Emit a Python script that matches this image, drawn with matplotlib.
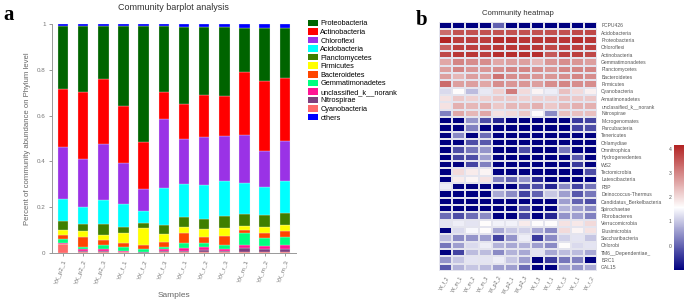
import numpy as np
import matplotlib
matplotlib.use("Agg")
import matplotlib.pyplot as plt
from matplotlib.patches import Patch
from matplotlib.colors import LinearSegmentedColormap

plt.rcParams['font.family'] = ['Liberation Sans', 'DejaVu Sans']

# ---- panel a: stacked bars ----
samples = ['YX_p2_1', 'YX_p2_2', 'YX_p2_3', 'YX_f_1', 'YX_f_2', 'YX_f_3',
           'YX_r_1', 'YX_r_2', 'YX_r_3', 'YX_m_1', 'YX_m_2', 'YX_m_3']

proteobacteria   = [0.275, 0.287, 0.232, 0.347, 0.504, 0.286, 0.333, 0.294, 0.299, 0.193, 0.231, 0.218]
actinobacteria   = [0.252, 0.294, 0.281, 0.251, 0.208, 0.118, 0.154, 0.184, 0.176, 0.275, 0.307, 0.276]
chloroflexi      = [0.229, 0.207, 0.246, 0.178, 0.093, 0.304, 0.198, 0.211, 0.197, 0.210, 0.157, 0.175]
acidobacteria    = [0.093, 0.074, 0.106, 0.102, 0.055, 0.160, 0.143, 0.146, 0.151, 0.135, 0.122, 0.138]
planctomycetes   = [0.041, 0.033, 0.048, 0.026, 0.020, 0.040, 0.044, 0.044, 0.054, 0.052, 0.052, 0.054]
firmicutes       = [0.021, 0.026, 0.020, 0.041, 0.075, 0.033, 0.027, 0.037, 0.032, 0.017, 0.026, 0.025]
bacteroidetes    = [0.019, 0.044, 0.022, 0.017, 0.016, 0.021, 0.044, 0.024, 0.041, 0.011, 0.023, 0.025]
gemmatimonadetes = [0.015, 0.009, 0.016, 0.018, 0.015, 0.012, 0.022, 0.020, 0.018, 0.053, 0.032, 0.035]
unclassified     = [0.005, 0.006, 0.011, 0.006, 0.002, 0.008, 0.010, 0.013, 0.007, 0.016, 0.016, 0.020]
nitrospirae      = [0.003, 0.006, 0.004, 0.002, 0.001, 0.004, 0.006, 0.006, 0.007, 0.017, 0.013, 0.013]
cyanobacteria    = [0.037, 0.004, 0.004, 0.002, 0.001, 0.004, 0.004, 0.006, 0.003, 0.003, 0.003, 0.003]
others           = [0.010, 0.010, 0.010, 0.010, 0.010, 0.010, 0.015, 0.015, 0.015, 0.018, 0.018, 0.018]

phyla = ['Proteobacteria', 'Actinobacteria', 'Chloroflexi', 'Acidobacteria',
         'Planctomycetes', 'Firmicutes', 'Bacteroidetes', 'Gemmatimonadetes',
         'unclassified_k__norank', 'Nitrospirae', 'Cyanobacteria', 'others']
series = [proteobacteria, actinobacteria, chloroflexi, acidobacteria, planctomycetes,
          firmicutes, bacteroidetes, gemmatimonadetes, unclassified, nitrospirae,
          cyanobacteria, others]
colors = ['#006400', '#FF0000', '#9A32E6', '#00FFFF', '#3F7F00', '#FFFF00',
          '#FF4500', '#00FF7F', '#FF1493', '#7F3F7F', '#FF6A6A', '#0000FF']

# ---- panel b: heatmap ----
heat_rows = ['FCPU426', 'Acidobacteria', 'Proteobacteria', 'Chloroflexi', 'Actinobacteria',
             'Gemmatimonadetes', 'Planctomycetes', 'Bacteroidetes', 'Firmicutes',
             'Cyanobacteria', 'Armatimonadetes', 'unclassified_k__norank', 'Nitrospirae',
             'Microgenomates', 'Parcubacteria', 'Tenericutes', 'Chlamydiae', 'Omnitrophica',
             'Hydrogenedentes', 'WS2', 'Tectomicrobia', 'Latescibacteria', 'FBP',
             'Deinococcus-Thermus', 'Candidatus_Berkelbacteria', 'Spirochaetae',
             'Fibrobacteres', 'Verrucomicrobia', 'Elusimicrobia', 'Saccharibacteria',
             'Chlorobi', 'TM6__Dependentiae_', 'BRC1', 'GAL15']
heat_cols = ['YX_f_2', 'YX_m_1', 'YX_m_2', 'YX_m_3', 'YX_p2_2', 'YX_p2_1',
             'YX_p2_3', 'YX_f_3', 'YX_f_1', 'YX_r_3', 'YX_r_1', 'YX_r_2']
heat_vals = [
    [-1, -1, -1, -1, 0.0, -1, -1, -1, -1, -1, -1, -1],
    [3.3, 3.6, 3.6, 3.6, 3.6, 3.6, 3.6, 3.6, 3.6, 3.6, 3.7, 3.7],
    [4.1, 3.8, 3.8, 3.8, 4.0, 4.0, 3.9, 3.9, 3.9, 3.9, 4.0, 3.9],
    [3.4, 3.8, 3.8, 3.8, 3.9, 3.9, 3.9, 3.9, 3.7, 3.8, 3.8, 3.8],
    [3.7, 3.9, 3.9, 3.8, 4.0, 4.0, 4.0, 4.0, 3.5, 3.8, 3.8, 3.7],
    [2.6, 3.0, 2.9, 2.9, 2.6, 2.7, 2.7, 2.4, 2.8, 2.9, 2.8, 2.7],
    [2.7, 3.0, 2.8, 2.8, 2.9, 3.0, 3.0, 2.9, 2.8, 3.0, 3.0, 3.0],
    [2.7, 2.4, 2.7, 2.7, 3.2, 2.9, 2.9, 2.8, 2.8, 2.9, 3.0, 2.9],
    [3.3, 2.7, 2.7, 2.6, 2.9, 2.8, 2.8, 2.7, 2.9, 3.0, 2.9, 2.9],
    [1.2, 1.6, 0.9, 1.35, 2.1, 3.1, 2.0, 1.7, 1.4, 2.3, 2.0, 1.75],
    [1.9, 2.2, 2.1, 2.1, 2.2, 2.2, 2.1, 2.1, 2.1, 2.3, 2.2, 2.2],
    [1.9, 2.5, 2.4, 2.5, 2.2, 2.4, 2.4, 2.5, 2.2, 2.4, 2.5, 2.5],
    [0.3, 2.6, 2.4, 2.6, 1.9, 2.0, 2.2, 1.6, 0.4, 2.3, 2.3, 2.3],
    [-1, -1, 0.5, -0.2, -0.6, -1, -1, -1, -1, -1, -0.4, -0.3],
    [-1, -1, 0.3, -1, -1, -1, -1, -1, -1, -1, -0.3, -0.2],
    [-1, 0.4, -1, 0.1, -1, -1, -1, -1, -1, -1, -1, -1],
    [-1, -1, -0.2, -0.1, -1, -1, -1, -1, -1, -1, -1, -1],
    [-1, -0.2, 0.2, 0.5, -1, -1, -0.2, -1, -1, 0.2, -1, -1],
    [-1, -0.3, -0.2, 0.6, -1, -1, -1, -1, -1, -1, -0.1, -1],
    [-1, -1, -0.3, 0.3, -1, -1, -1, -1, -1, -1, -0.4, -1],
    [-1, 2.0, 1.8, 1.7, -1, -1, -1, -1, -1, -1, -1, -0.2],
    [-1, 1.8, 1.7, 1.9, 0.3, 0.0, 0.5, -0.6, -1, -1, -1, -1],
    [1.4, -1, -1, -1, -1, -1, -0.3, -0.2, -0.6, 0.4, -0.3, 0.2],
    [-1, -1, -1, -1, 0.7, 0.4, -0.3, 0.0, 1.0, 0.6, -0.1, 0.2],
    [-1, -1, -1, -1, -1, -1, -1, -1, -1, 0.6, 0.0, -0.2],
    [-1, -1, -1, -1, -1, -1, -0.2, -1, -1, 0.8, 0.6, 0.4],
    [0.1, -0.2, 0.1, 0.4, -1, -1, -0.3, -1, -0.6, 0.5, 0.6, 0.3],
    [1.3, 1.4, 1.3, 1.6, 1.45, 1.45, 1.8, 1.6, 1.6, 1.9, 1.85, 2.0],
    [-1, 1.2, 1.5, 1.6, 0.7, 1.0, 1.1, 0.7, 0.4, 2.0, 1.7, 1.9],
    [0.9, 0.4, 0.5, 0.6, -0.3, 0.5, 1.4, -0.4, 0.4, 1.1, 1.3, 1.0],
    [0.2, 0.6, 1.2, 1.4, 0.8, 0.7, 0.8, 0.6, 0.4, 1.6, 1.2, 1.3],
    [-1, -0.3, 0.9, 0.9, 0.4, 0.8, 0.7, 1.3, 0.7, 0.9, 0.9, 0.7],
    [0.5, 1.0, 1.3, 1.3, 1.4, 1.0, 0.6, -1, -0.4, 0.2, 0.3, -1],
    [-0.1, 0.8, 1.0, 0.9, 0.6, 0.6, 0.1, -1, -1, 0.6, 0.5, 0.7],
]

fig = plt.figure(figsize=(6.85, 3.04), dpi=100)

# bar chart
ax = fig.add_axes([0.0759, 0.168, 0.356, 0.753])
x = np.arange(len(samples))
bottom = np.zeros(len(samples))
# stack from the bottom: cyanobacteria first, others on top
order = list(range(len(phyla) - 2, -1, -1)) + [len(phyla) - 1]
for i in order:
    ax.bar(x, series[i], 0.52, bottom=bottom, color=colors[i],
           edgecolor='#f0f0f0', linewidth=0.2)
    bottom += np.array(series[i])
ax.set_xlim(-0.55, 11.55)
ax.set_ylim(0, 1)
ax.set_yticks([0, 0.2, 0.4, 0.6, 0.8, 1])
ax.set_yticklabels(['0', '0.2', '0.4', '0.6', '0.8', '1'])
ax.set_xticks(x)
ax.set_xticklabels(samples, rotation=70, ha='right', rotation_mode='anchor')
ax.tick_params(colors='#888888', labelcolor='#777777', labelsize=4.5,
               length=2.5, width=0.6, pad=2)
for s in ['top', 'right']:
    ax.spines[s].set_visible(False)
for s in ['left', 'bottom']:
    ax.spines[s].set_color('#999999')
    ax.spines[s].set_linewidth(0.7)
ax.set_title('Community barplot analysis', fontsize=6.5, color='#333333', pad=10)
ax.set_ylabel('Percent of community abundance on Phylum level', fontsize=5.6,
              color='#666666', labelpad=4)
ax.set_xlabel('Samples', fontsize=6, color='#666666', labelpad=5)

handles = [Patch(facecolor=c, edgecolor='none') for c in colors]
fig.legend(handles, phyla, loc='upper left', bbox_to_anchor=(0.445, 0.945),
           frameon=False, fontsize=5.3, handlelength=1.4, handleheight=1.0,
           labelspacing=0.1, handletextpad=0.3, borderaxespad=0)

fig.text(0.005, 0.935, 'a', fontsize=15, fontweight='bold',
         family=['Liberation Serif', 'DejaVu Serif'])
fig.text(0.607, 0.918, 'b', fontsize=15, fontweight='bold',
         family=['Liberation Serif', 'DejaVu Serif'])

# heatmap
cmap = LinearSegmentedColormap.from_list('navy_fire', ['#000080', '#FFFFFF', '#B22222'])
hx = fig.add_axes([0.641, 0.109, 0.2305, 0.82])
data = np.array(heat_vals)
mesh = hx.pcolormesh(data, cmap=cmap, vmin=-1.0, vmax=4.15,
                     edgecolors='#e4e4ee', linewidth=0.3)
hx.set_xlim(0, data.shape[1])
hx.set_ylim(data.shape[0], 0)
hx.yaxis.tick_right()
hx.set_yticks(np.arange(data.shape[0]) + 0.5)
hx.set_yticklabels(heat_rows, fontsize=3.6, color='#555555')
hx.set_xticks(np.arange(data.shape[1]) + 0.5)
hx.set_xticklabels(heat_cols, rotation=60, ha='right', rotation_mode='anchor',
                   fontsize=3.4, color='#666666')
hx.tick_params(length=0, pad=3)
for s in hx.spines.values():
    s.set_visible(False)
hx.set_title('Community heatmap', fontsize=5.6, color='#333333', pad=5)

cax = fig.add_axes([0.984, 0.112, 0.0146, 0.411])
cb = fig.colorbar(mesh, cax=cax, ticks=[0, 1, 2, 3, 4])
cb.outline.set_visible(False)
cax.yaxis.set_ticks_position('left')
cax.tick_params(labelsize=3.6, length=0, pad=2, labelcolor='#555555')

fig.savefig('out.png', dpi=100)
